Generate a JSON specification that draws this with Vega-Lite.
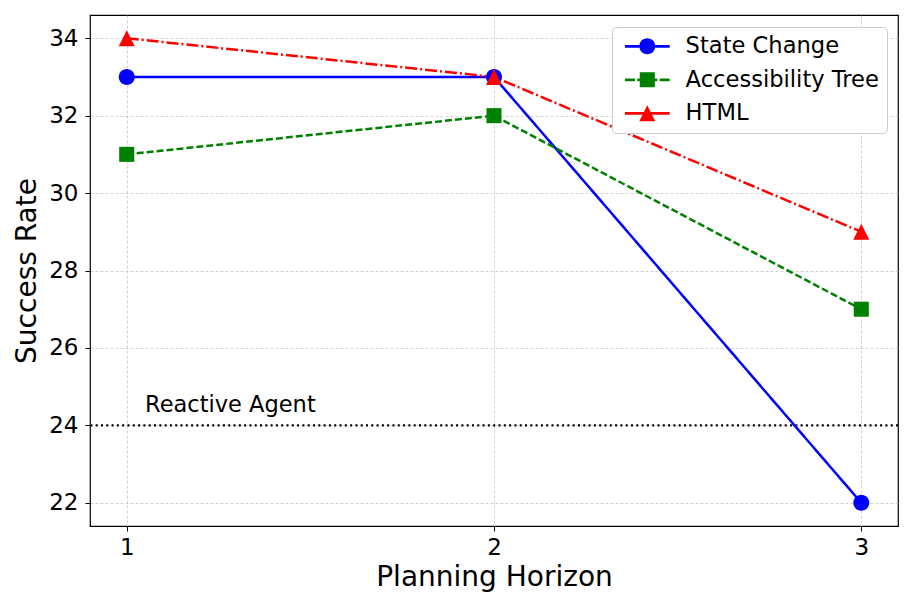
{
  "$schema": "https://vega.github.io/schema/vega-lite/v6.json",
  "width": 808,
  "height": 511,
  "autosize": {"type": "none"},
  "padding": {"left": 90, "top": 15, "right": 15, "bottom": 83},
  "background": "white",
  "config": {
    "font": "DejaVu Sans",
    "view": {"stroke": "black", "strokeWidth": 1.2},
    "axis": {
      "labelFont": "DejaVu Sans",
      "titleFont": "DejaVu Sans",
      "labelColor": "black",
      "titleColor": "black",
      "titleFontWeight": "normal",
      "labelFontSize": 23,
      "titleFontSize": 28,
      "tickColor": "black",
      "tickSize": 5,
      "domain": false,
      "grid": true,
      "gridColor": "#b0b0b0",
      "gridDash": [3, 2],
      "gridWidth": 0.8,
      "gridOpacity": 0.7
    },
    "legend": {"labelFont": "DejaVu Sans"}
  },
  "datasets": {
    "series": [
      {"horizon": 1, "rate": 33, "method": "State Change"},
      {"horizon": 2, "rate": 33, "method": "State Change"},
      {"horizon": 3, "rate": 22, "method": "State Change"},
      {"horizon": 1, "rate": 31, "method": "Accessibility Tree"},
      {"horizon": 2, "rate": 32, "method": "Accessibility Tree"},
      {"horizon": 3, "rate": 27, "method": "Accessibility Tree"},
      {"horizon": 1, "rate": 34, "method": "HTML"},
      {"horizon": 2, "rate": 33, "method": "HTML"},
      {"horizon": 3, "rate": 29, "method": "HTML"}
    ],
    "baseline": [{"rate": 24, "horizon": 1.05, "labelY": 24.34, "label": "Reactive Agent"}]
  },
  "layer": [
    {
      "data": {"name": "baseline"},
      "mark": {"type": "rule", "color": "black", "strokeWidth": 2.2, "strokeDash": [2, 3.3]},
      "encoding": {
        "y": {"field": "rate", "type": "quantitative", "scale": {"domain": [21.4, 34.6], "nice": false, "zero": false}}
      }
    },
    {
      "data": {"name": "baseline"},
      "mark": {"type": "text", "align": "left", "baseline": "alphabetic", "fontSize": 22.5, "color": "black", "font": "DejaVu Sans"},
      "encoding": {
        "x": {"field": "horizon", "type": "quantitative"},
        "y": {"field": "labelY", "type": "quantitative"},
        "text": {"field": "label"}
      }
    },
    {
      "data": {"name": "series"},
      "mark": {"type": "line", "strokeWidth": 2.5},
      "encoding": {
        "x": {"field": "horizon", "type": "quantitative", "scale": {"domain": [0.9, 3.1], "nice": false, "zero": false},
              "axis": {"values": [1, 2, 3], "format": "d", "title": "Planning Horizon", "titlePadding": 4, "labelPadding": 5}},
        "y": {"field": "rate", "type": "quantitative", "scale": {"domain": [21.4, 34.6], "nice": false, "zero": false},
              "axis": {"values": [22, 24, 26, 28, 30, 32, 34], "title": "Success Rate", "titlePadding": 7, "labelPadding": 7}},
        "color": {"field": "method", "type": "nominal",
                  "scale": {"domain": ["State Change", "Accessibility Tree", "HTML"], "range": ["#0000ff", "#008000", "#ff0000"]},
                  "legend": {"title": null, "orient": "none", "legendX": 522, "legendY": 12,
                             "labelFontSize": 22.6, "labelColor": "black", "symbolSize": 256, "rowPadding": 10.5,
                             "symbolOffset": 16, "labelOffset": 27, "padding": 8, "strokeColor": "#cccccc", "fillColor": "white", "cornerRadius": 4,
                             "labelLimit": 300,
                             "encode": {"symbols": {"update": {
                               "shape": {"signal": "datum.value === 'State Change' ? 'M-2.8,-0.17H-1V0.17H-2.8Z M1,-0.17H2.8V0.17H1Z M1,0A1,1 0 1,1 -1,0A1,1 0 1,1 1,0Z' : datum.value === 'Accessibility Tree' ? 'M-2.8,-0.17H-1.55V0.17H-2.8Z M-1.25,-0.17H-0.94V0.17H-1.25Z M0.94,-0.17H1.25V0.17H0.94Z M1.55,-0.17H2.8V0.17H1.55Z M-0.94,-0.94H0.94V0.94H-0.94Z' : 'M-2.8,-0.17H-0.45V0.17H-2.8Z M0.45,-0.17H2.8V0.17H0.45Z M0,-1L1,1H-1Z'"},
                               "size": {"value": 256},
                               "strokeWidth": {"value": 0},
                               "opacity": {"value": 1}
                             }}}}},
        "strokeDash": {"field": "method", "type": "nominal",
                       "scale": {"domain": ["State Change", "Accessibility Tree", "HTML"], "range": [[1, 0], [7, 3], [12, 3, 2, 3]]},
                       "legend": null}
      }
    },
    {
      "data": {"name": "series"},
      "transform": [{"filter": "datum.method === 'State Change'"}],
      "mark": {"type": "point", "filled": true, "opacity": 1, "size": 256, "strokeWidth": 0, "shape": "M1,0A1,1 0 1,1 -1,0A1,1 0 1,1 1,0Z"},
      "encoding": {
        "x": {"field": "horizon", "type": "quantitative"},
        "y": {"field": "rate", "type": "quantitative"},
        "color": {"field": "method", "type": "nominal",
                  "scale": {"domain": ["State Change", "Accessibility Tree", "HTML"], "range": ["#0000ff", "#008000", "#ff0000"]}}
      }
    },
    {
      "data": {"name": "series"},
      "transform": [{"filter": "datum.method === 'Accessibility Tree'"}],
      "mark": {"type": "point", "filled": true, "opacity": 1, "size": 256, "strokeWidth": 0, "shape": "M-0.94,-0.94H0.94V0.94H-0.94Z"},
      "encoding": {
        "x": {"field": "horizon", "type": "quantitative"},
        "y": {"field": "rate", "type": "quantitative"},
        "color": {"field": "method", "type": "nominal",
                  "scale": {"domain": ["State Change", "Accessibility Tree", "HTML"], "range": ["#0000ff", "#008000", "#ff0000"]}}
      }
    },
    {
      "data": {"name": "series"},
      "transform": [{"filter": "datum.method === 'HTML'"}],
      "mark": {"type": "point", "filled": true, "opacity": 1, "size": 256, "strokeWidth": 0, "shape": "M0,-1L1,1H-1Z"},
      "encoding": {
        "x": {"field": "horizon", "type": "quantitative"},
        "y": {"field": "rate", "type": "quantitative"},
        "color": {"field": "method", "type": "nominal",
                  "scale": {"domain": ["State Change", "Accessibility Tree", "HTML"], "range": ["#0000ff", "#008000", "#ff0000"]}}
      }
    }
  ]
}
